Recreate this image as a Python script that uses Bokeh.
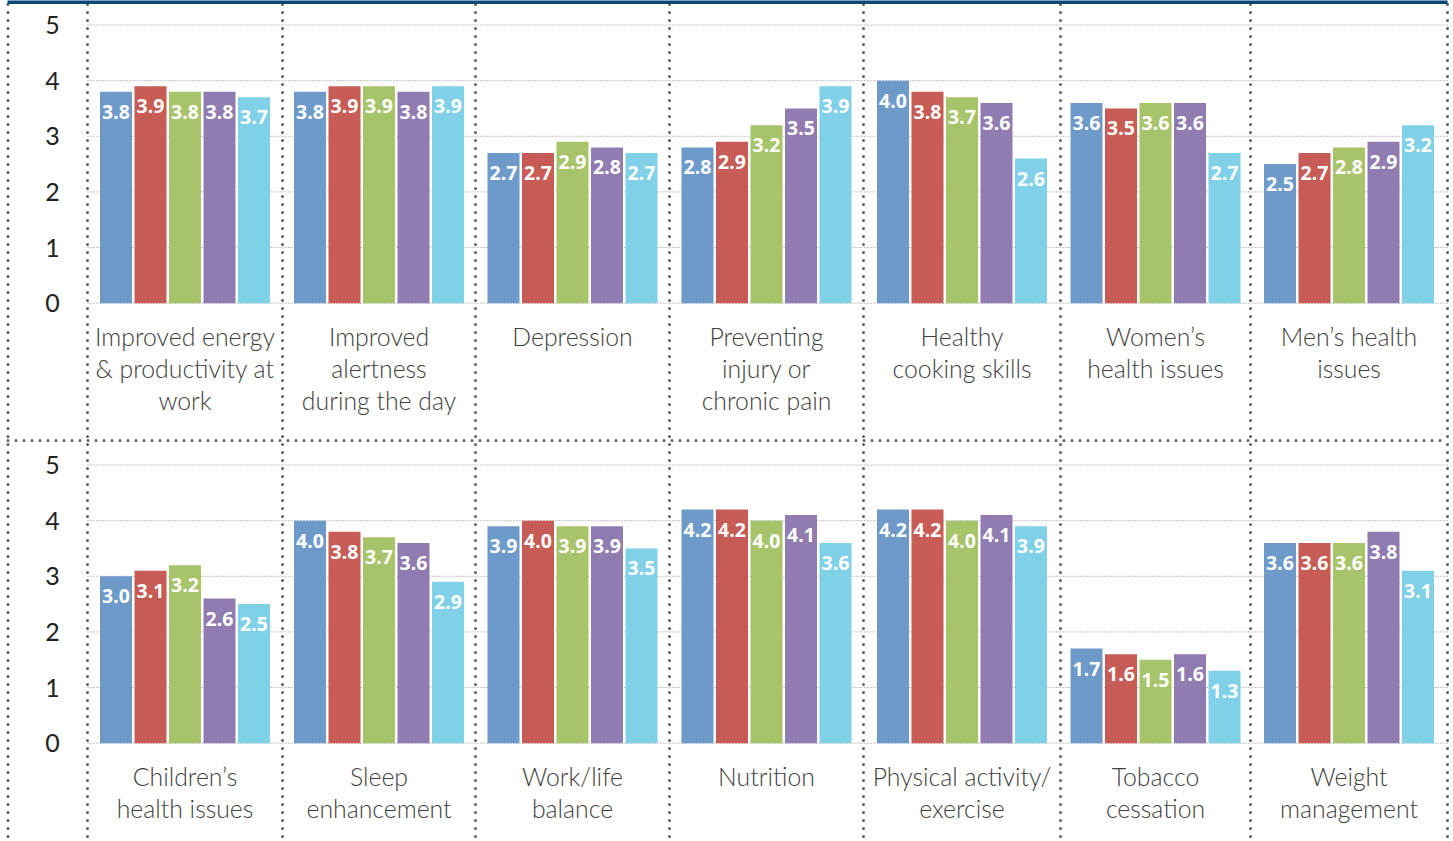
import numpy as np
from bokeh.plotting import figure
from bokeh.models import ColumnDataSource, Range1d
from bokeh.core.properties import value
from bokeh.embed import file_html
from bokeh.resources import INLINE

# ---------------- data ----------------
top_categories = [
    ["Improved energy", "& productivity at", "work"],
    ["Improved", "alertness", "during the day"],
    ["Depression"],
    ["Preventing", "injury or", "chronic pain"],
    ["Healthy", "cooking skills"],
    ["Women\u2019s", "health issues"],
    ["Men\u2019s health", "issues"],
]
bottom_categories = [
    ["Children\u2019s", "health issues"],
    ["Sleep", "enhancement"],
    ["Work/life", "balance"],
    ["Nutrition"],
    ["Physical activity/", "exercise"],
    ["Tobacco", "cessation"],
    ["Weight", "management"],
]
top_values = [
    [3.8, 3.9, 3.8, 3.8, 3.7],
    [3.8, 3.9, 3.9, 3.8, 3.9],
    [2.7, 2.7, 2.9, 2.8, 2.7],
    [2.8, 2.9, 3.2, 3.5, 3.9],
    [4.0, 3.8, 3.7, 3.6, 2.6],
    [3.6, 3.5, 3.6, 3.6, 2.7],
    [2.5, 2.7, 2.8, 2.9, 3.2],
]
bottom_values = [
    [3.0, 3.1, 3.2, 2.6, 2.5],
    [4.0, 3.8, 3.7, 3.6, 2.9],
    [3.9, 4.0, 3.9, 3.9, 3.5],
    [4.2, 4.2, 4.0, 4.1, 3.6],
    [4.2, 4.2, 4.0, 4.1, 3.9],
    [1.7, 1.6, 1.5, 1.6, 1.3],
    [3.6, 3.6, 3.6, 3.8, 3.1],
]
y_ticks = [0, 1, 2, 3, 4, 5]
y_tick_labels = ["0", "1", "2", "3", "4", "5"]
series_colors = ["#6d9ac9", "#c75b55", "#a8c46b", "#917cb1", "#80d0e7"]

# ---------------- layout constants (pixels) ----------------
W, H = 1453, 841
panel_edges = [87, 282, 475, 669, 863, 1060, 1250, 1447]
LEFT_LINE = 7.5
PX_Y = 55.64          # pixels per value unit
ROW_GAP = 440 / PX_Y  # offset between rows in data units
BOTTOM_BASE_PX = 742.7
BAR_STEP = 34.5
BAR_W = 32

y_start = -(H - BOTTOM_BASE_PX) / PX_Y
y_end = y_start + H / PX_Y

p = figure(width=W, height=H, output_backend="svg", toolbar_location=None,
           x_range=Range1d(0, W), y_range=Range1d(y_start, y_end),
           min_border=0, outline_line_color=None)
p.axis.visible = False
p.grid.visible = False
p.background_fill_color = "white"
p.border_fill_color = "white"

n_panels = 7
centers = [(panel_edges[i] + panel_edges[i + 1]) / 2 for i in range(n_panels)]
offsets = np.array([-2, -1, 0, 1, 2]) * BAR_STEP

rows = [(ROW_GAP, top_categories, top_values), (0.0, bottom_categories, bottom_values)]

# gridlines
gx0, gx1, gy = [], [], []
for base, _, _ in rows:
    for t in y_ticks:
        gx0.append(panel_edges[0]); gx1.append(panel_edges[-1]); gy.append(base + t)
p.segment(x0=gx0, y0=gy, x1=gx1, y1=gy, line_color="#8a8a8a", line_width=1,
          line_dash="1 2")

# vertical dotted separators
vx = [LEFT_LINE] + panel_edges
p.segment(x0=vx, y0=[y_end - 4 / PX_Y] * len(vx), x1=vx, y1=[y_start + 4 / PX_Y] * len(vx),
          line_color="#606060", line_width=3, line_dash="0 8", line_cap="round")
# horizontal separator between rows
sep_y = (BOTTOM_BASE_PX - 440) / PX_Y
p.segment(x0=[LEFT_LINE], y0=[sep_y], x1=[panel_edges[-1]], y1=[sep_y],
          line_color="#606060", line_width=3, line_dash="0 8", line_cap="round")

# top navy rule
p.segment(x0=[7], y0=[y_end - 1.5 / PX_Y], x1=[panel_edges[-1]], y1=[y_end - 1.5 / PX_Y],
          line_color="#0b4876", line_width=4)

# bars and labels
for base, cats, vals in rows:
    for s in range(5):
        xs = [centers[i] + offsets[s] for i in range(n_panels)]
        tops = [base + vals[i][s] for i in range(n_panels)]
        src = ColumnDataSource(dict(x=xs, top=tops,
                                    lbl=["%.1f" % vals[i][s] for i in range(n_panels)]))
        p.vbar(x="x", top="top", bottom=base, width=BAR_W, source=src,
               fill_color=series_colors[s], line_color=None)
        p.text(x="x", y="top", text="lbl", source=src, text_color="white",
               text_font=value("Noto Sans"), text_font_style="bold",
               text_font_size="19.5px", text_align="center",
               text_baseline="alphabetic", y_offset=20)
    # category labels
    lx, ly, lt = [], [], []
    for i, lines in enumerate(cats):
        for k, line in enumerate(lines):
            lx.append(centers[i])
            ly.append(base - (33.5 + 32 * k) / PX_Y)
            lt.append(line)
    p.text(x=lx, y=ly, text=lt, text_color="#3e3e3e",
           text_font=value("'Lato Light', 'Open Sans Light', Lato"),
           text_font_size="24.8px", text_align="center", text_baseline="middle")
    # y tick labels
    p.text(x=[52] * len(y_ticks), y=[base + t for t in y_ticks],
           text=y_tick_labels, text_color="#222222", text_font=value("Lato"),
           text_font_size="25px", text_align="center", text_baseline="middle")

open("out.html", "w").write(file_html(p, INLINE))
